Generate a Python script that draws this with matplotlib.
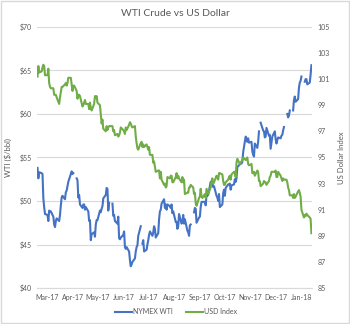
import numpy as np
import pandas as pd
import matplotlib
matplotlib.use("Agg")
import matplotlib.pyplot as plt
from matplotlib.patches import Rectangle

nan = np.nan

# trading days Mar 1 2017 .. Jan 24 2018
dates = pd.bdate_range("2017-03-01", "2018-01-24")

wti = [
    53.8, 52.6, 53.3,
    53.2, 53.1, 50.3, 49.3, 48.5,
    48.4, 47.7, 48.9, 48.8, 48.8,
    48.2, 47.3, 47.0, 47.7, 48.0,
    47.7, 48.4, 49.5, 50.4, 50.6,
    50.2, 51.0, 51.2, 51.7, 52.2,
    53.1, 53.4, 53.1, 53.2, nan,
    52.6, 52.4, 50.4, 50.7, 49.6,
    49.2, 49.6, 49.6, 49.0, 49.3,
    48.8, 47.7, 47.8, 45.5, 46.2,
    46.4, 45.9, 47.3, 47.8, 47.8,
    48.9, 48.7, 49.1, 49.4, 50.3,
    50.7, 51.5, 51.4, 48.9, 49.8,
    nan, 49.7, 48.3,
    48.4, 47.7,
    47.4, 48.2, 45.7, 45.6, 45.8,
    46.1, 46.5, 44.7, 44.5, 44.7,
    44.2, 43.2, 42.5, 42.7, 43.0,
    43.4, 44.2, 44.7, 44.9, 46.0,
    47.1, nan, 45.1, 45.5, 44.2,
    44.4, 45.0, 45.5, 46.1, 46.5,
    46.0, 46.4, 47.1, 46.8, 45.8,
    46.3, 47.9, 48.8, 49.0, 49.7,
    50.2,
    49.2, 49.6, 49.0, 49.6,
    49.4, 49.2, 49.6, 48.6, 48.8,
    47.6, 47.6, 46.8, 47.1, 48.5,
    47.4, 47.6, 48.4, 47.4, 47.9,
    46.6, 46.4, 46.0, 47.2,
    47.3,
    nan, 48.7, 49.2, 49.1, 47.5,
    48.1, 48.2, 49.3, 49.9, 49.9,
    49.9, 49.5, 50.7, 50.6, 50.7,
    52.2, 51.9, 52.1, 51.6, 51.7,
    50.6, 50.4, 50.0, 50.8, 49.3,
    49.6, 50.9, 51.3, 50.6, 51.5,
    51.9, 51.9, 52.0, 51.3, 51.8,
    51.9, 52.5, 52.2, 52.6, 53.9,
    54.2, 54.4,
    54.3, 54.5, 55.6,
    57.4, 57.2, 56.8, 57.2, 56.7,
    56.8, 55.7, 55.3, 55.1, 56.6,
    56.1, 56.8, 58.0, nan, 59.0,
    58.1, 58.0, 57.3, 57.4,
    58.4,
    57.5, 57.6, 56.0, 56.7, 57.4,
    58.0, 57.1, 56.6, 57.0, 57.3,
    57.2, 57.5, 57.6, 58.1, 58.5,
    nan, 60.0, 59.6, 59.8, 60.4,
    nan, 60.4, 61.6, 62.0, 61.4,
    61.7, 63.0, 63.6, 63.8, 64.3,
    nan, 63.7, 64.0, 64.0, 63.4,
    63.6, 64.5, 65.6,
]

usd = [
    101.2, 102.0, 101.5,
    101.6, 101.9, 102.1, 102.0, 101.3,
    101.3, 101.8, 100.7, 100.4, 100.3,
    100.3, 99.8, 99.8, 99.8, 99.6,
    99.1, 99.6, 100.0, 100.4, 100.4,
    100.6, 100.7, 100.5, 100.7, 101.1,
    101.1, 100.6, 100.1, 100.5, 100.5,
    100.1, 99.5, 99.8, 99.8, 99.7,
    98.9, 99.0, 99.2, 99.4, 99.1,
    99.1, 98.7, 99.2, 98.8, 98.6,
    99.1, 99.7, 99.6, 99.7, 99.2,
    99.0, 98.3, 97.6, 97.9, 97.2,
    97.0, 97.4, 97.1, 97.3, 97.4,
    97.4, 97.4, 97.0,
    97.1, 96.7,
    96.8, 96.6, 96.7, 96.9, 97.3,
    97.1, 97.0, 96.8, 97.3, 97.1,
    97.5, 97.7, 97.6, 97.4, 97.3,
    97.4, 96.6, 96.1, 95.7, 95.6,
    96.1, 96.2, 95.8, 96.0, 95.8,
    96.0, 95.8, 95.6, 95.8, 95.2,
    95.2, 94.6, 94.7, 94.3, 93.9,
    94.0, 94.0, 93.4, 93.9, 93.3,
    92.9,
    93.0, 92.7, 92.8, 93.5,
    93.4, 93.6, 93.6, 93.1, 93.1,
    93.5, 93.8, 93.4, 93.6, 93.4,
    93.1, 93.5, 93.1, 93.3, 92.2,
    92.3, 92.3, 92.7, 92.7,
    92.9,
    92.7, 92.2, 92.3, 91.5, 91.3,
    91.9, 92.0, 92.6, 92.0, 91.9,
    92.2, 91.9, 92.6, 92.4, 92.2,
    92.7, 93.2, 93.4, 93.0, 93.1,
    93.6, 93.5, 93.3, 93.8, 93.8,
    93.7, 93.2, 92.9, 92.9, 93.1,
    93.3, 93.5, 93.6, 93.3, 93.7,
    93.9, 93.9, 93.5, 94.6, 94.9,
    94.5, 94.6,
    94.7, 94.8, 95.0,
    94.8, 94.9, 95.0, 94.5, 94.4,
    94.5, 93.8, 93.8, 93.9, 93.6,
    94.0, 93.9, 93.2, 93.2, 92.8,
    93.0, 93.2, 93.1, 93.1,
    92.9,
    93.2, 93.5, 93.6, 93.9, 93.9,
    93.9, 94.0, 93.5, 93.5, 93.9,
    93.6, 93.4, 93.2, 93.4, 93.3,
    93.3, 93.1, 92.7, 92.5, 92.1,
    92.1, 91.9, 92.2, 91.9, 92.0,
    92.4, 92.5, 92.3, 92.0, 91.0,
    90.4, 90.6, 90.5, 90.7, 90.6,
    90.4, 90.3, 89.2,
]

tick_dates = ["2017-03-12", "2017-04-12", "2017-05-12", "2017-06-12",
              "2017-07-12", "2017-08-12", "2017-09-12", "2017-10-12",
              "2017-11-12", "2017-12-12", "2018-01-12"]
tick_labels = ["Mar-17", "Apr-17", "May-17", "Jun-17", "Jul-17", "Aug-17",
               "Sep-17", "Oct-17", "Nov-17", "Dec-17", "Jan-18"]
left_ticks = [40, 45, 50, 55, 60, 65, 70]
left_labels = ["$40", "$45", "$50", "$55", "$60", "$65", "$70"]
right_ticks = [85, 87, 89, 91, 93, 95, 97, 99, 101, 103, 105]

plt.rcParams["font.family"] = ["Lato", "DejaVu Sans"]
txt = "#595959"
grid = "#d9d9d9"

fig = plt.figure(figsize=(3.5, 3.24), dpi=100)
ax = fig.add_axes([0.106, 0.111, 0.785, 0.806])
ax2 = ax.twinx()

l1, = ax.plot(dates, wti, color="#4472C4", lw=1.5, label="NYMEX WTI", zorder=3)
l2, = ax2.plot(dates, usd, color="#70AD47", lw=1.5, label="USD Index", zorder=3)

ax.set_ylim(40, 70)
ax2.set_ylim(85, 105)
ax.set_xlim(pd.Timestamp("2017-03-01") - pd.Timedelta(hours=12),
            pd.Timestamp("2018-01-24") + pd.Timedelta(hours=12))
ax.set_yticks(left_ticks)
ax.set_yticklabels(left_labels)
ax2.set_yticks(right_ticks)
ax2.set_yticklabels([str(t) for t in right_ticks])
ax.set_xticks(pd.to_datetime(tick_dates))
ax.set_xticklabels(tick_labels)

ax.grid(axis="y", color=grid, lw=0.8)
ax.set_axisbelow(True)
for a in (ax, ax2):
    for s in a.spines.values():
        s.set_visible(False)
    a.tick_params(length=0, colors=txt, labelsize=5)
ax.spines["bottom"].set_visible(True)
ax.spines["bottom"].set_color(grid)
ax.spines["bottom"].set_linewidth(0.8)
ax.tick_params(axis="y", pad=4)
ax2.tick_params(axis="y", pad=4)
ax.tick_params(axis="x", pad=4)

ax.set_ylabel("WTI ($/bbl)", color=txt, fontsize=5.5, labelpad=5)
ax2.set_ylabel("US Dollar Index", color=txt, fontsize=5.5, labelpad=6)

fig.text(0.5, 0.958, "WTI Crude vs US Dollar", ha="center", va="center",
         color=txt, fontsize=7.5)

fig.legend(handles=[l1, l2], loc="center", bbox_to_anchor=(0.503, 0.038),
           ncol=2, frameon=False, fontsize=5, labelcolor=txt,
           handlelength=2.5, handletextpad=0.2, columnspacing=1.8)

fig.patches.append(Rectangle((0.002, 0.002), 0.996, 0.996, transform=fig.transFigure,
                             fill=False, edgecolor=grid, lw=1))

assert len(wti) == len(dates) and len(usd) == len(dates)
fig.savefig("out.png", dpi=100, facecolor="white")
